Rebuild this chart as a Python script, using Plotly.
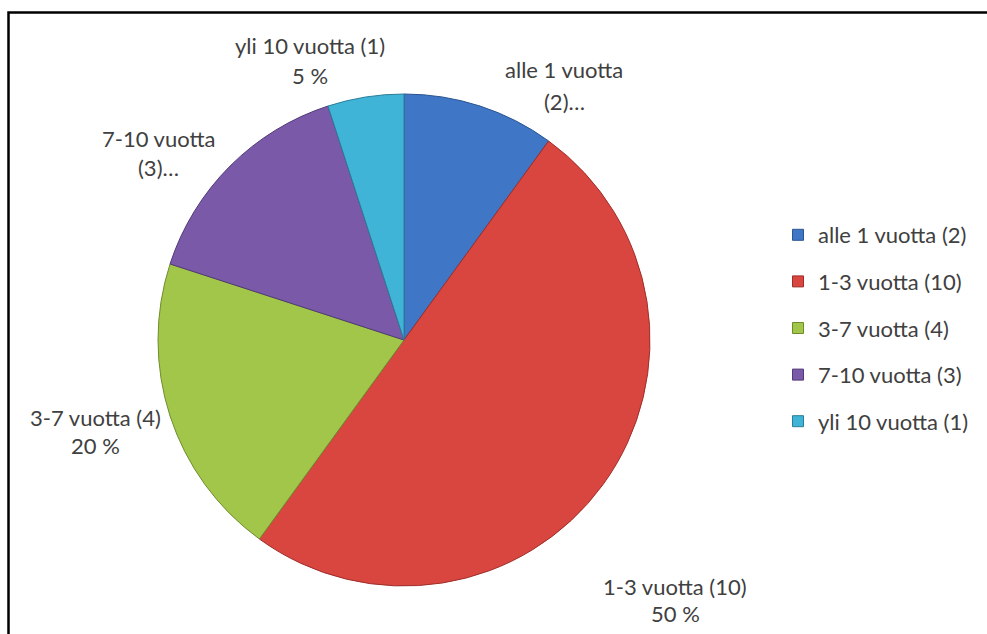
import plotly.graph_objects as go

categories = ["alle 1 vuotta (2)", "1-3 vuotta (10)", "3-7 vuotta (4)", "7-10 vuotta (3)", "yli 10 vuotta (1)"]
values = [2, 10, 4, 3, 1]
colors = ["#3F76C6", "#D9463F", "#A2C64A", "#7A5AA8", "#3FB4D6"]
edge_colors = ["#2B5590", "#9E2E2A", "#6F8C2C", "#523A78", "#2A7E98"]
label_line1 = ["alle 1 vuotta", "1-3 vuotta (10)", "3-7 vuotta (4)", "7-10 vuotta", "yli 10 vuotta (1)"]
label_line2 = ["(2)…", "50 %", "20 %", "(3)…", "5 %"]

W, H = 987, 634
FONT = "Lato"
FS = 22
TXT = "#404040"

fig = go.Figure()
cx, cy, r = 404, 340, 246
fig.add_trace(go.Pie(
    labels=categories, values=values, sort=False, direction="clockwise", rotation=0,
    marker=dict(colors=colors, line=dict(color=edge_colors, width=1)),
    textinfo="none", hoverinfo="label+percent", showlegend=False,
    domain=dict(x=[(cx - r) / W, (cx + r) / W], y=[1 - (cy + r) / H, 1 - (cy - r) / H]),
))

for i, (c, col, ec) in enumerate(zip(categories, colors, edge_colors)):
    fig.add_trace(go.Scatter(
        x=[None], y=[None], mode="markers", name=c, legendgroup=f"g{i}",
        marker=dict(symbol="square", size=11, color=col, line=dict(color=ec, width=1)),
        showlegend=True,
    ))

# label positions (pixel centers of each two-line label)
label_pos = [(564, 70, 101), (675, 586, 613), (95, 417, 445), (158, 138, 167), (310, 45, 75)]
annotations = []
for (x, y1, y2), t1, t2 in zip(label_pos, label_line1, label_line2):
    for y, t in ((y1, t1), (y2, t2)):
        annotations.append(dict(
            x=x / W, y=1 - y / H, xref="paper", yref="paper", text=t, showarrow=False,
            xanchor="center", yanchor="middle", font=dict(family=FONT, size=FS, color=TXT),
        ))

fig.update_layout(
    width=W, height=H, margin=dict(l=0, r=0, t=0, b=0),
    paper_bgcolor="white", plot_bgcolor="white",
    xaxis=dict(visible=False), yaxis=dict(visible=False),
    font=dict(family=FONT, size=FS, color=TXT),
    legend=dict(x=778 / W, y=1 - 214 / H, xanchor="left", yanchor="top",
                tracegroupgap=15, font=dict(family=FONT, size=FS, color=TXT),
                bgcolor="rgba(0,0,0,0)"),
    annotations=annotations,
    shapes=[dict(type="rect", xref="paper", yref="paper", x0=8.5 / W, x1=1.02,
                 y0=-0.02, y1=1 - 12.5 / H, line=dict(color="black", width=2.5))],
)

fig.write_html("out.html", config={"displayModeBar": False},
               post_script="document.body.style.margin='0';document.body.style.overflow='hidden';")
